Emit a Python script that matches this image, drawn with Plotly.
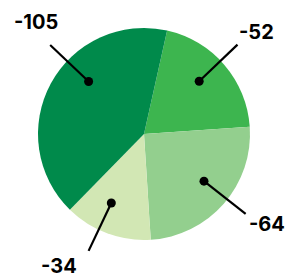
import math
import plotly.graph_objects as go

# Data
labels = ["-52", "-64", "-34", "-105"]
values = [-52, -64, -34, -105]
colors = ["#3DB54F", "#93CF8E", "#D2E7B4", "#008A4B"]

# Style / layout params
W, H = 285, 274
CX, CY, R = 144, 134, 106
ROTATION = 12.6
line_angle_offsets = [-3, -3, 5, 15]
text_angle_offsets = [-1.5, -5, 12.5, 17.5]
text_radii = [1.43, 1.44, 1.48, 1.47]
LINE_IN, LINE_OUT = 0.72, 1.22
DOT_PX = 4.5

abs_vals = [abs(v) for v in values]
total = sum(abs_vals)

fig = go.Figure()
fig.add_trace(go.Pie(
    values=abs_vals, labels=labels, sort=False, direction="clockwise",
    rotation=ROTATION, marker=dict(colors=colors, line=dict(width=0)),
    textinfo="none", hoverinfo="skip", showlegend=False,
    domain=dict(x=[(CX - R) / W, (CX + R) / W], y=[1 - (CY + R) / H, 1 - (CY - R) / H]),
))

def pt(angle_deg, rr):
    a = math.radians(angle_deg)
    return CX + rr * R * math.sin(a), CY - rr * R * math.cos(a)

shapes, annotations = [], []
cum = ROTATION
for lab, v, loff, toff, tr in zip(labels, abs_vals, line_angle_offsets, text_angle_offsets, text_radii):
    span = v / total * 360
    mid = cum + span / 2
    cum += span
    x0, y0 = pt(mid + loff, LINE_IN)
    x1, y1 = pt(mid + loff, LINE_OUT)
    xt, yt = pt(mid + toff, tr)
    shapes.append(dict(type="line", xref="x", yref="y", x0=x0, y0=y0, x1=x1, y1=y1,
                       line=dict(color="black", width=2.2), layer="above"))
    shapes.append(dict(type="circle", xref="x", yref="y", x0=x0 - DOT_PX, y0=y0 - DOT_PX,
                       x1=x0 + DOT_PX, y1=y0 + DOT_PX, fillcolor="black",
                       line=dict(width=0), layer="above"))
    annotations.append(dict(x=xt, y=yt, xref="x", yref="y", text=lab, showarrow=False,
                            xanchor="center", yanchor="middle",
                            font=dict(family="Inter", size=20, color="black", weight="bold")))

# invisible trace so the cartesian axes exist
fig.add_trace(go.Scatter(x=[0, W], y=[0, H], mode="markers", marker=dict(opacity=0),
                         hoverinfo="skip", showlegend=False))

fig.update_layout(
    width=W, height=H, margin=dict(l=0, r=0, t=0, b=0),
    paper_bgcolor="white", plot_bgcolor="rgba(0,0,0,0)",
    xaxis=dict(range=[0, W], visible=False, fixedrange=True),
    yaxis=dict(range=[H, 0], visible=False, fixedrange=True),
    shapes=shapes, annotations=annotations,
)
fig.write_html("out.html", config={"displayModeBar": False},
               post_script="document.body.style.margin='0';document.body.style.overflow='hidden';")
